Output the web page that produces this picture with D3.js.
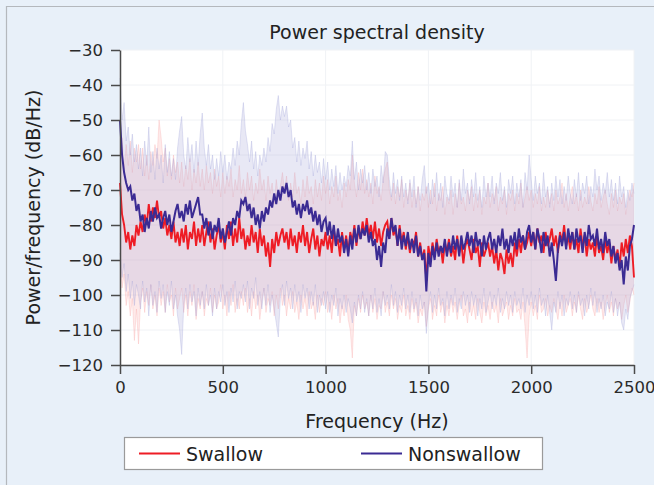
<!DOCTYPE html>
<html>
<head>
<meta charset="utf-8">
<script src="https://cdn.jsdelivr.net/npm/d3@7"></script>
<style>
  body { margin: 0; background: #e8f0f9; }
  svg { display: block; font-family: "DejaVu Sans", sans-serif; }
</style>
</head>
<body>
<div id="chart"></div>
<script>
// frequency grid: 0..2500 Hz every 10 Hz
const freqStep = 10;

const swallowMean = [
  -68,-77,-80,-85,-82,-87,-83,-86,-80,-83,
  -79,-82,-77,-80,-74,-79,-75,-78,-73,-78,
  -76,-81,-78,-83,-80,-84,-79,-85,-82,-86,
  -81,-85,-80,-87,-82,-84,-79,-86,-81,-85,
  -80,-86,-82,-79,-85,-81,-87,-83,-80,-85,
  -82,-87,-80,-84,-79,-86,-81,-85,-78,-84,
  -81,-87,-83,-86,-80,-85,-82,-88,-81,-86,
  -83,-89,-85,-92,-84,-88,-82,-86,-83,-81,
  -85,-82,-87,-81,-86,-83,-88,-82,-85,-80,
  -86,-82,-88,-84,-81,-87,-83,-89,-84,-86,
  -82,-87,-83,-88,-81,-86,-84,-89,-82,-87,
  -83,-88,-82,-85,-80,-86,-81,-84,-79,-83,
  -78,-83,-80,-84,-79,-85,-81,-86,-82,-80,
  -79,-84,-78,-83,-81,-86,-80,-85,-82,-87,
  -83,-88,-84,-86,-82,-89,-85,-90,-87,-96,
  -86,-90,-85,-89,-84,-88,-86,-91,-85,-88,
  -84,-89,-86,-90,-83,-88,-85,-91,-86,-84,
  -87,-90,-84,-88,-86,-92,-85,-89,-87,-85,
  -89,-86,-91,-87,-93,-88,-90,-94,-87,-91,
  -88,-92,-85,-89,-84,-88,-83,-87,-85,-82,
  -86,-82,-87,-81,-85,-83,-88,-82,-86,-84,
  -81,-86,-83,-88,-82,-85,-80,-86,-83,-87,
  -82,-87,-84,-88,-81,-86,-83,-89,-84,-87,
  -85,-89,-83,-88,-86,-90,-84,-88,-85,-91,
  -86,-90,-87,-92,-85,-89,-84,-88,-83,-86,
  -95
];

const swallowUpper = [
  -60,-55,-64,-57,-63,-56,-65,-58,-62,-57,
  -64,-58,-66,-60,-67,-59,-63,-57,-61,-50,
  -55,-62,-58,-66,-61,-67,-60,-65,-62,-68,
  -62,-69,-63,-67,-61,-70,-64,-68,-62,-69,
  -64,-70,-63,-68,-65,-71,-64,-69,-66,-72,
  -65,-71,-66,-69,-64,-72,-67,-70,-63,-71,
  -67,-72,-65,-70,-66,-73,-68,-71,-64,-70,
  -67,-73,-66,-71,-68,-74,-67,-72,-69,-65,
  -70,-66,-73,-68,-72,-65,-71,-69,-74,-67,
  -72,-66,-71,-69,-74,-67,-72,-68,-73,-66,
  -71,-67,-74,-69,-72,-66,-73,-70,-75,-68,
  -72,-67,-70,-60,-68,-72,-65,-70,-64,-71,
  -67,-72,-68,-74,-66,-71,-69,-73,-67,-64,
  -62,-70,-73,-68,-74,-69,-72,-67,-75,-70,
  -73,-68,-75,-70,-74,-69,-76,-71,-73,-69,
  -75,-70,-74,-68,-76,-71,-73,-69,-77,-72,
  -74,-70,-77,-71,-75,-68,-74,-72,-76,-70,
  -73,-69,-76,-71,-75,-70,-77,-72,-74,-68,
  -75,-71,-73,-69,-76,-72,-74,-70,-77,-71,
  -73,-70,-76,-71,-74,-68,-75,-72,-69,-73,
  -70,-75,-71,-74,-69,-76,-72,-75,-70,-74,
  -71,-76,-70,-74,-72,-68,-75,-71,-76,-72,
  -69,-74,-71,-76,-70,-75,-72,-74,-69,-73,
  -76,-71,-74,-69,-75,-72,-70,-74,-77,-71,
  -75,-70,-76,-72,-74,-71,-77,-73,-70,-72,
  -68
];

const swallowLower = [
  -90,-98,-94,-103,-99,-106,-101,-113,-104,-114,
  -102,-98,-105,-99,-103,-97,-104,-100,-106,-98,
  -103,-99,-105,-97,-102,-100,-106,-98,-104,-101,
  -98,-105,-100,-106,-99,-103,-97,-107,-101,-104,
  -99,-106,-101,-103,-98,-105,-100,-104,-102,-97,
  -104,-100,-106,-99,-103,-97,-105,-101,-104,-99,
  -103,-98,-105,-101,-106,-99,-104,-100,-107,-102,
  -98,-105,-101,-103,-99,-106,-100,-104,-98,-103,
  -100,-106,-101,-104,-99,-105,-102,-107,-100,-104,
  -101,-106,-99,-104,-102,-107,-100,-105,-101,-103,
  -99,-105,-102,-107,-100,-104,-101,-108,-103,-106,
  -100,-107,-110,-118,-103,-106,-101,-105,-100,-104,
  -102,-106,-100,-105,-101,-107,-103,-104,-99,-105,
  -102,-106,-100,-104,-101,-107,-103,-105,-100,-106,
  -103,-107,-101,-105,-102,-108,-104,-106,-102,-109,
  -104,-101,-107,-103,-106,-100,-105,-102,-108,-103,
  -106,-101,-105,-102,-107,-103,-100,-106,-104,-108,
  -102,-106,-103,-107,-101,-105,-108,-102,-106,-103,
  -107,-102,-105,-103,-108,-101,-106,-104,-102,-107,
  -103,-106,-101,-105,-104,-107,-102,-109,-118,-106,
  -102,-106,-103,-107,-100,-105,-104,-101,-106,-103,
  -105,-101,-104,-107,-102,-106,-100,-105,-103,-101,
  -106,-102,-105,-100,-104,-107,-101,-105,-103,-100,
  -104,-106,-101,-105,-102,-107,-103,-100,-105,-102,
  -106,-101,-104,-102,-107,-103,-100,-105,-102,-98,
  -100
];

const nonswallowMean = [
  -50,-60,-65,-68,-70,-69,-73,-71,-76,-74,
  -79,-77,-82,-78,-81,-76,-79,-75,-78,-77,
  -81,-78,-76,-80,-77,-82,-79,-76,-74,-78,
  -76,-79,-74,-77,-73,-78,-76,-74,-72,-77,
  -77,-81,-78,-83,-79,-84,-80,-82,-78,-84,
  -81,-85,-82,-79,-83,-78,-80,-76,-78,-73,
  -74,-72,-76,-74,-78,-75,-80,-77,-81,-76,
  -79,-75,-77,-73,-75,-71,-74,-70,-73,-69,
  -71,-68,-72,-70,-75,-73,-77,-74,-78,-74,
  -76,-73,-77,-75,-79,-76,-80,-77,-82,-79,
  -78,-83,-79,-84,-80,-86,-81,-85,-83,-88,
  -84,-89,-83,-87,-81,-85,-80,-84,-81,-83,
  -80,-85,-82,-86,-84,-90,-86,-92,-85,-88,
  -81,-84,-78,-82,-80,-86,-81,-87,-83,-86,
  -82,-87,-84,-88,-83,-89,-86,-90,-88,-99,
  -88,-92,-86,-90,-85,-89,-86,-88,-84,-89,
  -85,-88,-83,-87,-84,-89,-83,-87,-85,-82,
  -86,-83,-88,-82,-86,-84,-89,-83,-87,-84,
  -82,-87,-84,-88,-83,-86,-81,-87,-84,-88,
  -83,-86,-82,-87,-81,-85,-83,-87,-82,-80,
  -85,-82,-87,-81,-84,-88,-82,-86,-83,-89,
  -85,-90,-96,-87,-83,-86,-82,-87,-81,-85,
  -82,-87,-81,-85,-83,-88,-82,-86,-80,-84,
  -83,-86,-81,-87,-84,-88,-82,-86,-84,-89,
  -86,-91,-88,-93,-90,-97,-89,-93,-86,-84,
  -80
];

const nonswallowUpper = [
  -38,-50,-45,-56,-52,-60,-54,-62,-57,-64,
  -58,-66,-56,-63,-52,-65,-59,-67,-58,-64,
  -60,-68,-57,-65,-59,-66,-61,-67,-58,-53,
  -49,-60,-64,-55,-62,-57,-65,-56,-63,-54,
  -48,-58,-63,-57,-64,-60,-67,-61,-66,-59,
  -65,-60,-67,-62,-64,-58,-63,-56,-60,-51,
  -45,-53,-57,-62,-56,-64,-59,-66,-60,-63,
  -58,-62,-55,-59,-51,-54,-47,-43,-50,-46,
  -49,-46,-52,-50,-58,-55,-62,-56,-63,-58,
  -61,-56,-64,-59,-66,-60,-65,-62,-68,-61,
  -67,-62,-70,-64,-69,-63,-71,-65,-70,-66,
  -69,-63,-66,-56,-67,-62,-70,-64,-68,-63,
  -70,-65,-71,-64,-69,-66,-72,-63,-68,-59,
  -60,-67,-72,-65,-71,-67,-73,-66,-72,-68,
  -74,-67,-72,-66,-75,-69,-73,-67,-63,-71,
  -68,-74,-67,-72,-65,-73,-68,-75,-66,-71,
  -73,-66,-72,-68,-75,-67,-73,-64,-71,-68,
  -74,-67,-72,-65,-73,-69,-75,-66,-72,-68,
  -72,-66,-74,-68,-71,-65,-73,-69,-75,-67,
  -71,-66,-74,-68,-72,-67,-75,-65,-70,-60,
  -67,-73,-66,-71,-68,-74,-65,-72,-69,-75,
  -68,-73,-66,-72,-67,-74,-69,-73,-66,-71,
  -74,-67,-72,-65,-73,-68,-71,-66,-74,-69,
  -72,-64,-70,-66,-73,-68,-71,-65,-72,-67,
  -73,-68,-74,-66,-72,-69,-75,-70,-73,-68,
  -71
];

const nonswallowLower = [
  -88,-95,-91,-99,-94,-101,-96,-103,-97,-100,
  -104,-96,-102,-98,-106,-97,-103,-99,-105,-96,
  -101,-97,-105,-99,-103,-96,-104,-100,-106,-110,
  -117,-103,-98,-104,-97,-102,-99,-106,-98,-103,
  -99,-104,-97,-103,-100,-106,-98,-104,-99,-102,
  -97,-103,-99,-105,-98,-102,-96,-104,-99,-101,
  -97,-102,-96,-104,-98,-101,-95,-103,-99,-104,
  -98,-103,-97,-105,-100,-104,-108,-112,-101,-97,
  -103,-96,-101,-98,-104,-97,-102,-99,-105,-97,
  -101,-98,-104,-99,-103,-97,-105,-100,-103,-99,
  -104,-99,-105,-100,-103,-98,-106,-101,-104,-100,
  -105,-101,-104,-108,-102,-106,-100,-104,-99,-105,
  -101,-106,-100,-104,-98,-105,-101,-106,-99,-103,
  -100,-104,-97,-103,-99,-105,-100,-103,-98,-104,
  -100,-105,-99,-104,-101,-106,-100,-104,-102,-111,
  -103,-99,-105,-100,-104,-98,-103,-101,-106,-99,
  -104,-100,-103,-98,-105,-101,-104,-99,-103,-100,
  -105,-99,-103,-100,-106,-101,-104,-98,-105,-102,
  -99,-104,-100,-103,-98,-105,-101,-104,-99,-103,
  -100,-105,-99,-103,-101,-104,-98,-105,-100,-103,
  -99,-104,-100,-105,-98,-103,-101,-106,-100,-105,
  -110,-102,-105,-99,-104,-100,-106,-101,-103,-99,
  -104,-100,-105,-99,-103,-101,-106,-100,-104,-98,
  -103,-99,-105,-101,-104,-100,-106,-102,-104,-99,
  -105,-101,-106,-102,-108,-110,-104,-107,-101,-99,
  -97
];

const yTicks = [-30, -40, -50, -60, -70, -80, -90, -100, -110, -120];
const xTicks = [0, 500, 1000, 1500, 2000, 2500];

const WIDTH = 654, HEIGHT = 485;
const margins = { top: 50, left: 120 };
const width = 514, height = 315;

const svg = d3.select("#chart")
    .append("svg")
    .attr("width", WIDTH)
    .attr("height", HEIGHT);

svg.append("rect")
    .attr("width", WIDTH)
    .attr("height", HEIGHT)
    .attr("fill", "#e8f0f9");

// panel border (only top and left are in view)
svg.append("path")
    .attr("d", `M6.5,${HEIGHT} V6.5 H${WIDTH}`)
    .attr("fill", "none")
    .attr("stroke", "#b4b8bd")
    .attr("stroke-width", 1.2);

const x = d3.scaleLinear().domain([0, 2500]).range([0, width]);
const y = d3.scaleLinear().domain([-120, -30]).range([height, 0]);

const plot = svg.append("g")
    .attr("transform", `translate(${margins.left}, ${margins.top})`);

plot.append("rect")
    .attr("width", width)
    .attr("height", height)
    .attr("fill", "#ffffff");

// faint grid
plot.append("g")
    .selectAll("line")
    .data(yTicks)
    .join("line")
    .attr("x1", 0).attr("x2", width)
    .attr("y1", d => y(d)).attr("y2", d => y(d))
    .attr("stroke", "#f0f2f5");

plot.append("g")
    .selectAll("line")
    .data(xTicks)
    .join("line")
    .attr("y1", 0).attr("y2", height)
    .attr("x1", d => x(d)).attr("x2", d => x(d))
    .attr("stroke", "#f0f2f5");

const toRows = (mean, upper, lower) =>
    mean.map((m, i) => ({ f: i * freqStep, m: m, hi: upper[i], lo: lower[i] }));

const swallow = toRows(swallowMean, swallowUpper, swallowLower);
const nonswallow = toRows(nonswallowMean, nonswallowUpper, nonswallowLower);

const area = d3.area()
    .x(d => x(d.f))
    .y0(d => y(d.lo))
    .y1(d => y(d.hi));

const edgeHi = d3.line().x(d => x(d.f)).y(d => y(d.hi));
const edgeLo = d3.line().x(d => x(d.f)).y(d => y(d.lo));
const meanLine = d3.line().x(d => x(d.f)).y(d => y(d.m));

const bands = [
    { rows: swallow, fill: "#f9a8a8", fillOp: 0.24, edge: "#f7a0a0" },
    { rows: nonswallow, fill: "#a6a8da", fillOp: 0.26, edge: "#9a9cd6" }
];

bands.forEach(b => {
    plot.append("path")
        .attr("d", area(b.rows))
        .attr("fill", b.fill)
        .attr("fill-opacity", b.fillOp);
    [edgeHi, edgeLo].forEach(fn => {
        plot.append("path")
            .attr("d", fn(b.rows))
            .attr("fill", "none")
            .attr("stroke", b.edge)
            .attr("stroke-opacity", 0.35)
            .attr("stroke-width", 0.8);
    });
});

plot.append("path")
    .attr("d", meanLine(swallow))
    .attr("fill", "none")
    .attr("stroke", "#ee1c25")
    .attr("stroke-width", 1.9);

plot.append("path")
    .attr("d", meanLine(nonswallow))
    .attr("fill", "none")
    .attr("stroke", "#3b2b93")
    .attr("stroke-width", 2);

// axes
const axisY = d3.axisLeft(y).tickValues(yTicks).tickSize(9).tickSizeOuter(0).tickPadding(8);
const gy = plot.append("g").call(axisY);

const axisX = d3.axisBottom(x).tickValues(xTicks).tickSize(9).tickSizeOuter(0)
    .tickPadding(7).tickFormat(d3.format("d"));
const gx = plot.append("g")
    .attr("transform", `translate(0, ${height})`)
    .call(axisX);

[gx, gy].forEach(g => {
    g.select(".domain").attr("stroke", "#4a4a4a").attr("stroke-width", 1.5);
    g.selectAll(".tick line").attr("stroke", "#4a4a4a").attr("stroke-width", 1.5);
    g.selectAll(".tick text")
        .attr("font-size", 16.5)
        .attr("font-family", "DejaVu Sans, sans-serif")
        .attr("fill", "#2a2a2a");
});

// titles
svg.append("text")
    .attr("x", margins.left + width / 2)
    .attr("y", 39)
    .attr("text-anchor", "middle")
    .attr("font-size", 19)
    .attr("fill", "#222")
    .text("Power spectral density");

svg.append("text")
    .attr("x", margins.left + width / 2)
    .attr("y", 428)
    .attr("text-anchor", "middle")
    .attr("font-size", 19)
    .attr("fill", "#222")
    .text("Frequency (Hz)");

svg.append("text")
    .attr("transform", `translate(40, ${margins.top + height / 2}) rotate(-90)`)
    .attr("text-anchor", "middle")
    .attr("font-size", 19)
    .attr("fill", "#222")
    .text("Power/frequency (dB/Hz)");

// legend
const legendItems = [
    { name: "Swallow", color: "#ee1c25", x: 139 },
    { name: "Nonswallow", color: "#3b2b93", x: 361 }
];

const legend = svg.append("g");
legend.append("rect")
    .attr("x", 124.5).attr("y", 437.5)
    .attr("width", 418).attr("height", 32)
    .attr("fill", "#ffffff")
    .attr("stroke", "#9a9a9a")
    .attr("stroke-width", 1.2);

legend.selectAll("line")
    .data(legendItems)
    .join("line")
    .attr("x1", d => d.x).attr("x2", d => d.x + 41)
    .attr("y1", 453.5).attr("y2", 453.5)
    .attr("stroke", d => d.color)
    .attr("stroke-width", 1.8);

legend.selectAll("text")
    .data(legendItems)
    .join("text")
    .attr("x", d => d.x + 47)
    .attr("y", 461)
    .attr("font-size", 19)
    .attr("fill", "#222")
    .text(d => d.name);
</script>
</body>
</html>
